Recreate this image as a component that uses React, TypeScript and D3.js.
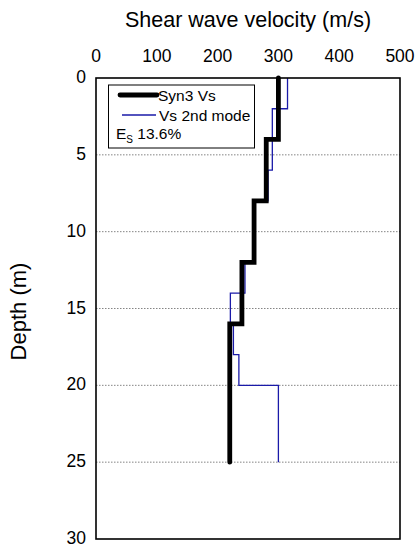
import React from "react";
import * as d3 from "d3";

const xTicks = [0, 100, 200, 300, 400, 500];
const yTicks = [0, 5, 10, 15, 20, 25, 30];
const gridDepths = [5, 10, 15, 20, 25];

// Syn3 Vs layers: top depth, bottom depth, velocity
const synTop = [0, 4, 8, 12, 16];
const synBottom = [4, 8, 12, 16, 25];
const synVs = [300, 280, 260, 240, 220];

// Vs 2nd mode layers
const modeTop = [0, 2, 6, 8, 12, 14, 16, 18, 20];
const modeBottom = [2, 6, 8, 12, 14, 16, 18, 20, 25];
const modeVs = [315, 290, 283, 262, 245, 221, 226, 235, 300];

const W = 417, H = 547;
const left = 96, right = 400, top = 78, bottom = 539;

function stepPoints(tops: number[], bots: number[], vs: number[]): [number, number][] {
  const pts: [number, number][] = [];
  tops.forEach((t, i) => {
    pts.push([vs[i], t]);
    pts.push([vs[i], bots[i]]);
  });
  return pts;
}

export default function App() {
  const x = d3.scaleLinear().domain([0, 500]).range([left, right]);
  const y = d3.scaleLinear().domain([0, 30]).range([top, bottom]);
  const line = d3.line<[number, number]>().x(d => x(d[0])).y(d => y(d[1]));
  const synPath = line(stepPoints(synTop, synBottom, synVs)) || "";
  const modePath = line(stepPoints(modeTop, modeBottom, modeVs)) || "";
  const font = "Arial, 'Liberation Sans', sans-serif";

  return (
    <svg width={W} height={H} style={{ position: "absolute", left: 0, top: 0 }} fontFamily={font}>
      <rect x={0} y={0} width={W} height={H} fill="#fff" />
      <text x={(left + right) / 2} y={27} textAnchor="middle" fontSize={21.5}>Shear wave velocity (m/s)</text>
      {xTicks.map(t => (
        <text key={"x" + t} x={x(t)} y={62} textAnchor="middle" fontSize={17.5}>{t}</text>
      ))}
      {yTicks.map(t => (
        <text key={"y" + t} x={86} y={Math.min(y(t) - 1, 538)} textAnchor="end" fontSize={17.5} dominantBaseline="central">{t}</text>
      ))}
      <text transform={`translate(26,${(top + bottom) / 2 + 3}) rotate(-90)`} textAnchor="middle" fontSize={22}>Depth (m)</text>
      {gridDepths.map(d => (
        <line key={"g" + d} x1={left} x2={right} y1={y(d)} y2={y(d)} stroke="#666" strokeWidth={0.8} strokeDasharray="1.5,1.5" />
      ))}
      <path d={modePath} fill="none" stroke="#1a1aa8" strokeWidth={1.3} />
      <path d={synPath} fill="none" stroke="#000" strokeWidth={4.8} strokeLinecap="round" strokeLinejoin="miter" />
      <rect x={left} y={top} width={right - left} height={bottom - top} fill="none" stroke="#000" strokeWidth={1.6} />
      <g>
        <rect x={108.5} y={85} width={146} height={63} fill="#fff" stroke="#000" strokeWidth={1} />
        <line x1={120} x2={157} y1={95} y2={95} stroke="#000" strokeWidth={4.8} strokeLinecap="round" />
        <text x={158} y={100.5} fontSize={15.5}>Syn3 Vs</text>
        <line x1={122} x2={156} y1={115} y2={115} stroke="#1a1aa8" strokeWidth={1.3} />
        <text x={159} y={120.5} fontSize={15.5}>Vs 2nd mode</text>
        <text x={116} y={139} fontSize={15.5}>E<tspan fontSize={10} dy={4}>S</tspan><tspan dy={-4}> 13.6%</tspan></text>
      </g>
    </svg>
  );
}
